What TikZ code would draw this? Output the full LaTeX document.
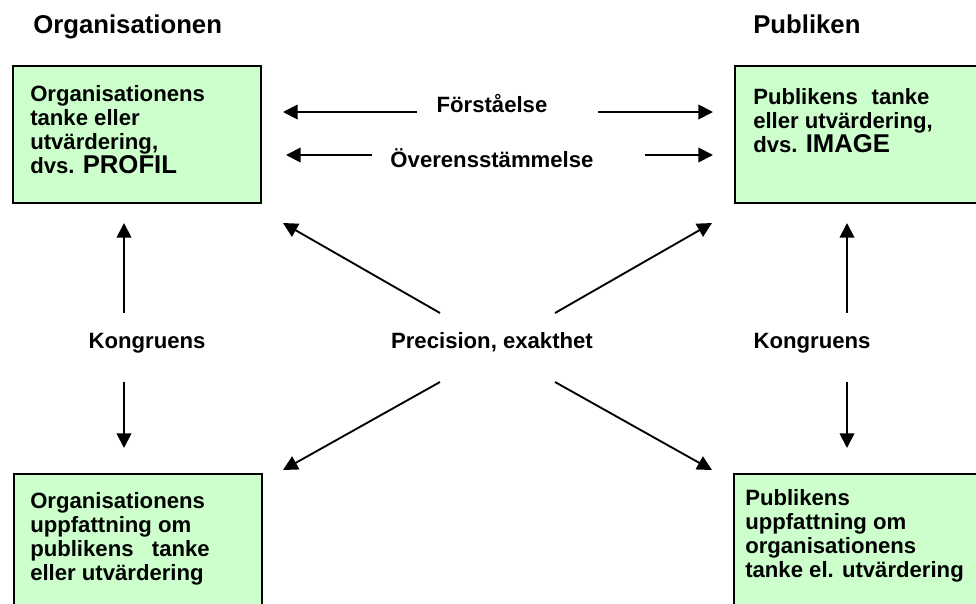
\documentclass[tikz,border=0pt]{standalone}
\usepackage{fontspec}
\setmainfont{Liberation Sans}
\usetikzlibrary{arrows.meta}
\definecolor{boxgreen}{HTML}{CCFFCC}
\newcommand\dgbody{\fontsize{16.6}{18}\selectfont\bfseries}
\newcommand\dgbig{\fontsize{19.3}{20}\selectfont\bfseries}
\begin{document}
\begin{tikzpicture}[x=0.75pt,y=-0.75pt,
  box/.style={draw=black, line width=1.5pt, fill=boxgreen, rectangle, anchor=north west, inner sep=0pt},
  txt/.style={anchor=north west, inner sep=0pt, align=left, font=\dgbody},
  lab/.style={anchor=base, inner sep=0pt, font=\dgbody},
  head/.style={anchor=base west, inner sep=0pt, font=\dgbig},
  arr/.style={line width=1.4pt, -{Triangle[length=11pt,width=11pt]}}]
\useasboundingbox (0,0) rectangle (976,604);
\clip (0,0) rectangle (976,604);
\fill[white] (0,0) rectangle (976,604);

% headings
\node[head] (horg) at (33,33) {Organisationen};
\node[head] (hpub) at (753,33) {Publiken};

% boxes
\node[box, minimum width=186pt, minimum height=102.75pt] (tl) at (12,65) {};
\node[box, minimum width=195pt, minimum height=102.75pt] (tr) at (734,65) {};
\node[box, minimum width=186pt, minimum height=150pt] (bl) at (13,473) {};
\node[box, minimum width=195pt, minimum height=150pt] (br) at (733,473) {};

% box texts
\node[txt] (tltext) at (30,85) {Organisationens\\tanke eller\\utvärdering,\\dvs. {\dgbig PROFIL}};
\node[txt] (trtext) at (753,88) {Publikens\hspace{0.35em} tanke\\eller utvärdering,\\dvs. {\dgbig IMAGE}};
\node[txt] (bltext) at (30,492) {Organisationens\\uppfattning om\\publikens\hspace{0.55em} tanke\\eller utvärdering};
\node[txt] (brtext) at (745,489) {Publikens\\uppfattning om\\organisationens\\tanke el. utvärdering};

% labels
\node[lab] (forst) at (492,112) {Förståelse};
\node[lab] (overe) at (492,167) {Överensstämmelse};
\node[lab] (kongl) at (147,348) {Kongruens};
\node[lab] (kongr) at (812,348) {Kongruens};
\node[lab] (prec) at (492,348) {Precision, exakthet};

% arrow end points
\coordinate (f1s) at (417,112); \coordinate (f1e) at (283,112);
\coordinate (f2s) at (598,112); \coordinate (f2e) at (713,112);
\coordinate (o1s) at (372,155); \coordinate (o1e) at (286,155);
\coordinate (o2s) at (645,155); \coordinate (o2e) at (713,155);
\coordinate (kl1s) at (124,313); \coordinate (kl1e) at (124,223);
\coordinate (kl2s) at (124,382); \coordinate (kl2e) at (124,448);
\coordinate (kr1s) at (847,313); \coordinate (kr1e) at (847,223);
\coordinate (kr2s) at (847,382); \coordinate (kr2e) at (847,448);
\coordinate (p1s) at (440,313); \coordinate (p1e) at (283,223);
\coordinate (p2s) at (555,313); \coordinate (p2e) at (712,223);
\coordinate (p3s) at (440,382); \coordinate (p3e) at (283,470);
\coordinate (p4s) at (555,382); \coordinate (p4e) at (712,470);

\foreach \a in {f1,f2,o1,o2,kl1,kl2,kr1,kr2,p1,p2,p3,p4}
  \draw[arr] (\a s) -- (\a e);
\end{tikzpicture}
\end{document}
